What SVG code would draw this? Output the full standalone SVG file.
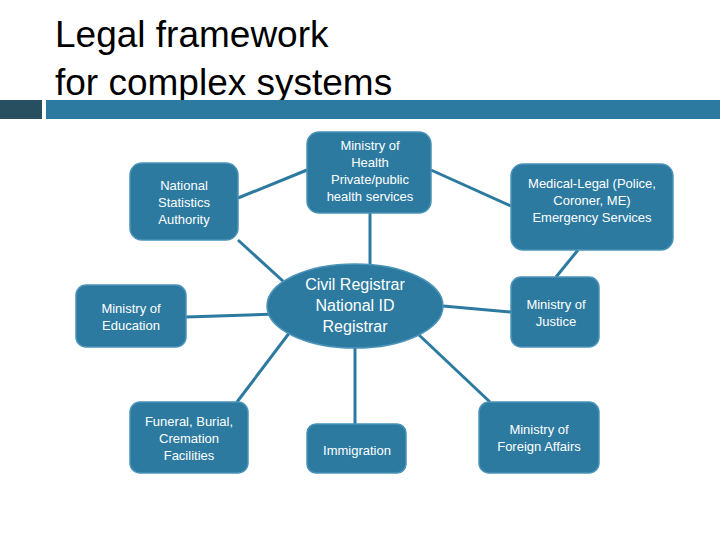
<svg xmlns="http://www.w3.org/2000/svg" width="720" height="540" viewBox="0 0 720 540">
<style>
.n{fill:#2d7aa0;stroke:#4a93b8;stroke-width:1.5}
.t{font-family:"Liberation Sans",Arial,sans-serif;font-size:13px;fill:#fff;text-anchor:middle}
.c line{stroke:#2d7aa0;stroke-width:3}
</style>
<rect width="720" height="540" fill="#fff"/>
<text x="55" y="47" font-family="Liberation Sans,Arial,sans-serif" font-size="37" fill="#000">Legal framework</text>
<text x="55" y="95" font-family="Liberation Sans,Arial,sans-serif" font-size="37" fill="#000">for complex systems</text>
<rect x="0" y="100" width="42" height="19" fill="#284f60"/>
<rect x="46" y="100" width="674" height="19" fill="#2d7aa0"/>
<g class="c">
<line x1="238" y1="198" x2="307" y2="170"/>
<line x1="238" y1="240" x2="284" y2="282"/>
<line x1="186" y1="317" x2="277" y2="314"/>
<line x1="237" y1="402" x2="290" y2="332"/>
<line x1="370" y1="213" x2="370" y2="266"/>
<line x1="355" y1="348" x2="355" y2="424"/>
<line x1="431" y1="170" x2="511" y2="206"/>
<line x1="578" y1="250" x2="556" y2="277"/>
<line x1="443" y1="306" x2="511" y2="312"/>
<line x1="418" y1="334" x2="490" y2="402"/>
</g>
<g id="nsa"><rect class="n" x="130" y="163" width="108" height="77" rx="12"/><text class="t"><tspan x="184" y="190">National</tspan><tspan x="184" y="207">Statistics</tspan><tspan x="184" y="224">Authority</tspan></text></g>
<g id="moh"><rect class="n" x="307" y="132" width="124" height="81" rx="12"/><text class="t"><tspan x="370" y="150">Ministry of</tspan><tspan x="370" y="167">Health</tspan><tspan x="370" y="184">Private/public</tspan><tspan x="370" y="201">health services</tspan></text></g>
<g id="med"><rect class="n" x="511" y="164" width="162" height="86" rx="12"/><text class="t"><tspan x="592" y="188">Medical-Legal (Police,</tspan><tspan x="592" y="205">Coroner, ME)</tspan><tspan x="592" y="222">Emergency Services</tspan></text></g>
<g id="moe"><rect class="n" x="76" y="285" width="110" height="62" rx="10"/><text class="t"><tspan x="131" y="313">Ministry of</tspan><tspan x="131" y="330">Education</tspan></text></g>
<g id="civ"><ellipse class="n" cx="355" cy="306" rx="88" ry="42"/><text class="t" style="font-size:16px"><tspan x="355" y="290">Civil Registrar</tspan><tspan x="355" y="311">National ID</tspan><tspan x="355" y="332">Registrar</tspan></text></g>
<g id="moj"><rect class="n" x="511" y="277" width="88" height="70" rx="10"/><text class="t"><tspan x="556" y="309">Ministry of</tspan><tspan x="556" y="326">Justice</tspan></text></g>
<g id="fun"><rect class="n" x="130" y="402" width="118" height="71" rx="10"/><text class="t"><tspan x="189" y="426">Funeral, Burial,</tspan><tspan x="189" y="443">Cremation</tspan><tspan x="189" y="460">Facilities</tspan></text></g>
<g id="imm"><rect class="n" x="307" y="424" width="99" height="49" rx="9"/><text class="t"><tspan x="357" y="455">Immigration</tspan></text></g>
<g id="mfa"><rect class="n" x="479" y="402" width="120" height="71" rx="10"/><text class="t"><tspan x="539" y="434">Ministry of</tspan><tspan x="539" y="451">Foreign Affairs</tspan></text></g>
</svg>
